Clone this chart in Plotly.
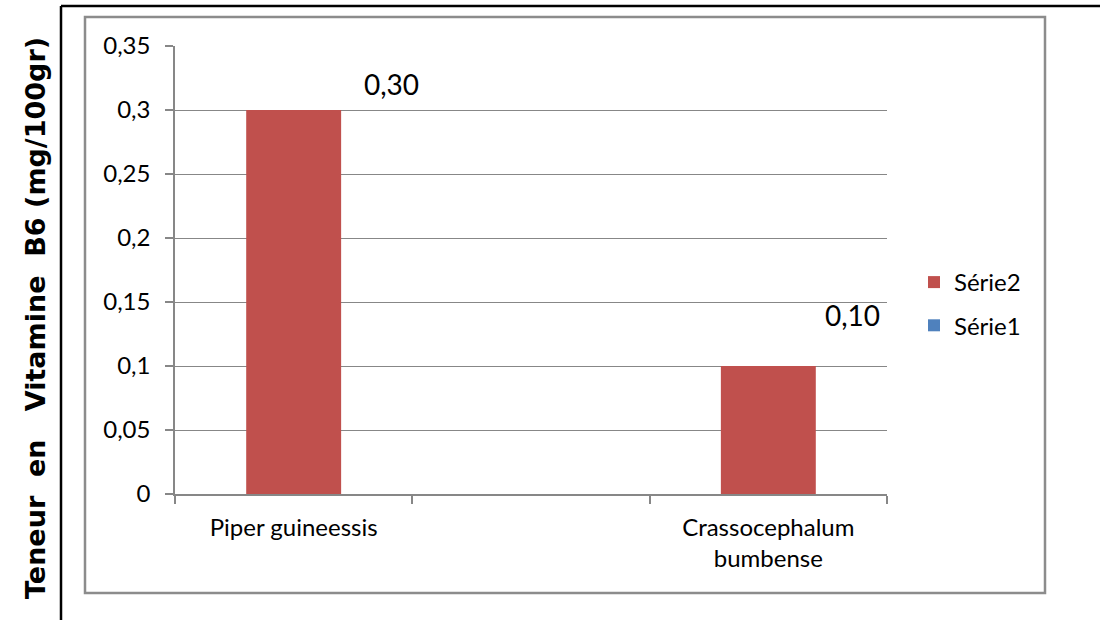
import plotly.graph_objects as go

# Data
categories = ["Piper guineessis", " ", "Crassocephalum<br>bumbense"]
serie2 = [0.30, None, 0.10]
serie1 = [None, None, None]
y_tick_values = [0, 0.05, 0.1, 0.15, 0.2, 0.25, 0.3, 0.35]
y_tick_labels = ["0", "0,05", "0,1", "0,15", "0,2", "0,25", "0,3", "0,35"]

# Figure geometry (pixels)
W, H = 1100, 620
PL, PR, PT, PB = 175, 887, 46, 494   # plot area edges
PW, PH = PR - PL, PB - PT


def px(xp):
    return (xp - PL) / PW


def py(yp):
    return (PB - yp) / PH


RED = "#C0504D"
BLUE = "#4F81BD"
GRID = "#878787"
FONT = "Lato"

fig = go.Figure()
# Série2 listed first so it sits on top in the legend
fig.add_trace(go.Bar(x=categories, y=serie2, name="Série2", marker_color=RED,
                     marker_line_width=0, legendgroup="s2", width=0.4))
fig.add_trace(go.Bar(x=categories, y=serie1, name="Série1", marker_color=BLUE,
                     marker_line_width=0, legendgroup="s1", width=0.4))

# Value labels next to each bar top
label_shifts = [(98, 26), None, (84, 51)]
for cat, val, sh in zip(categories, serie2, label_shifts):
    if val is None:
        continue
    fig.add_annotation(x=cat, y=val, xref="x", yref="y",
                       text=f"{val:.2f}".replace(".", ","),
                       showarrow=False, xshift=sh[0], yshift=sh[1],
                       font=dict(family=FONT, size=28, color="#000"))

# Y axis title
fig.add_annotation(
    xref="paper", yref="paper", x=px(35), y=py(318),
    text="<b>Teneur\u00a0\u00a0en\u00a0\u00a0\u00a0Vitamine\u00a0\u00a0B6 (mg/100gr)</b>",
    textangle=-90, showarrow=False, xanchor="center", yanchor="middle",
    font=dict(family="DejaVu Sans", size=27, color="#000"))

# Frames
shapes = [
    dict(type="rect", xref="paper", yref="paper",
         x0=px(85), x1=px(1045), y0=py(593), y1=py(17),
         line=dict(color="#8c8c8c", width=2.5), layer="below"),
    dict(type="line", xref="paper", yref="paper",
         x0=px(61), x1=px(61), y0=py(625), y1=py(6),
         line=dict(color="#000", width=2.5)),
    dict(type="line", xref="paper", yref="paper",
         x0=px(61), x1=px(1105), y0=py(6), y1=py(6),
         line=dict(color="#000", width=2.5)),
]

fig.update_layout(
    width=W, height=H,
    margin=dict(l=PL, r=W - PR, t=PT, b=H - PB),
    paper_bgcolor="white", plot_bgcolor="white",
    barmode="overlay", bargap=0.6,
    shapes=shapes,
    font=dict(family=FONT, size=24, color="#000"),
    showlegend=True,
    legend=dict(x=px(914), y=py(260), xanchor="left", yanchor="top",
                traceorder="grouped", tracegroupgap=9,
                font=dict(family=FONT, size=24, color="#000"),
                bgcolor="rgba(0,0,0,0)"),
    xaxis=dict(type="category", categoryorder="array", categoryarray=categories,
               range=[-0.5, 2.5], showgrid=False, showline=True,
               linecolor=GRID, linewidth=1.5, ticks="outside", ticklen=8,
               tickcolor=GRID, tickwidth=1.5, tickson="boundaries",
               tickfont=dict(family=FONT, size=24), ticklabelstandoff=11,
               fixedrange=True),
    yaxis=dict(range=[0, 0.35], tickvals=y_tick_values, ticktext=y_tick_labels,
               showgrid=True, gridcolor=GRID, gridwidth=1.2,
               showline=True, linecolor=GRID, linewidth=1.5,
               ticks="outside", ticklen=8, tickcolor=GRID, tickwidth=1.5,
               tickfont=dict(family=FONT, size=24), zeroline=False,
               ticklabelstandoff=10, fixedrange=True),
)

fig.write_html("out.html")
